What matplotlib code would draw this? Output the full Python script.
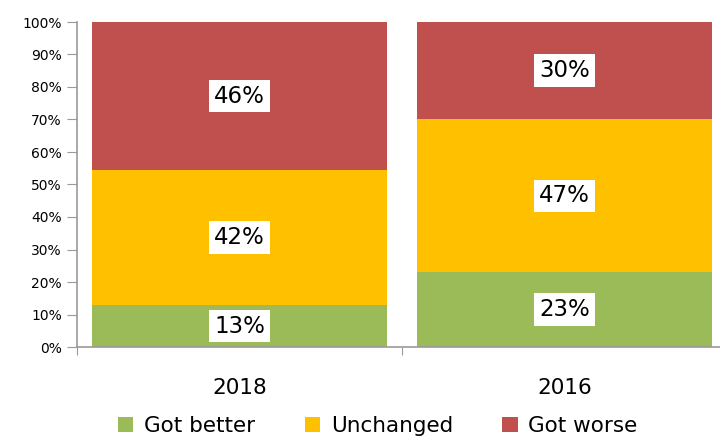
import matplotlib.pyplot as plt
import numpy as np

# Données (valeurs affichées, empilement normalisé à 100 %)
annees = ['2018', '2016']
series = ['Got better', 'Unchanged', 'Got worse']
valeurs = {
    'Got better': [13, 23],
    'Unchanged': [42, 47],
    'Got worse': [46, 30],
}
couleurs = {'Got better': '#9BBB59', 'Unchanged': '#FFC000', 'Got worse': '#C0504D'}

plt.rcParams['font.family'] = ['DejaVu Sans']

fig = plt.figure(figsize=(7.2, 4.4), dpi=100)
ax = fig.add_axes([77 / 720, 93 / 440, 650 / 720, 325 / 440])

x = np.arange(len(annees))
totaux = np.sum([valeurs[s] for s in series], axis=0)
bas = np.zeros(len(annees))
for s in series:
    hauteurs = np.array(valeurs[s]) / totaux * 100
    ax.bar(x, hauteurs, bottom=bas, width=0.91, color=couleurs[s], label=s)
    for xi, b, h, v in zip(x, bas, hauteurs, valeurs[s]):
        ax.text(xi, b + h / 2, f'{v}%', ha='center', va='center', fontsize=16.5,
                bbox=dict(facecolor='white', edgecolor='none', pad=3.5))
    bas += hauteurs

ax.set_xlim(-0.5, 1.5)
ax.set_ylim(0, 100)
ax.set_yticks(np.arange(0, 101, 10))
ax.set_yticklabels([f'{v}%' for v in range(0, 101, 10)], fontsize=10)
ax.set_xticks([-0.5, 0.5, 1.5])
ax.set_xticklabels([])
ax.set_xticks(x, minor=True)
ax.set_xticklabels(annees, minor=True, fontsize=15.5)
ax.tick_params(axis='x', which='minor', length=0, pad=22)
ax.tick_params(axis='x', which='major', length=6, color='#999999', direction='out')
ax.tick_params(axis='y', length=7, color='#999999', direction='out', pad=4)

for cote in ['top', 'right']:
    ax.spines[cote].set_visible(False)
for cote in ['left', 'bottom']:
    ax.spines[cote].set_color('#999999')
    ax.spines[cote].set_linewidth(1.2)

fig.legend(loc='lower center', bbox_to_anchor=(0.525, -0.035), ncol=3, frameon=False,
           fontsize=15.5, handlelength=0.7, handleheight=0.7, columnspacing=2.3,
           handletextpad=0.5)

plt.savefig('out.png', dpi=100)
